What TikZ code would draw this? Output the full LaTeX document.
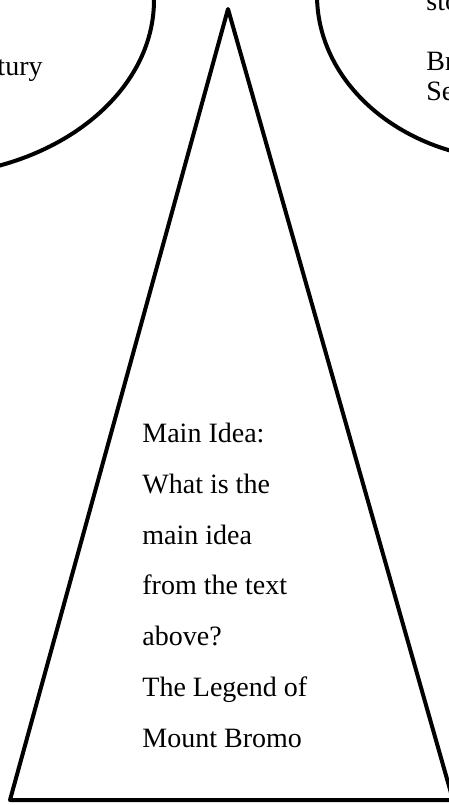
\documentclass[tikz,border=0pt]{standalone}
\usepackage{fontspec}
\setmainfont{Liberation Serif}
\usepackage{tikz}
\usetikzlibrary{positioning}

\begin{document}
\begin{tikzpicture}[
  x=0.5pt, y=-0.5pt,
  outline/.style={draw, line width=2pt, line join=round},
  txt/.style={inner sep=0pt, font=\fontsize{14}{15}\selectfont},
  idea/.style={txt, align=left, font=\fontsize{14}{25.35}\selectfont}
]
  \useasboundingbox (0,0) rectangle (449,805);
  \clip (0,0) rectangle (449,805);

  % Left bubble, cut by the page edge
  \draw[outline] (-80,0) ellipse [x radius=234, y radius=176];
  \node[txt, anchor=base east] (lefttail) at (43,75) {tury};

  % Right bubble, cut by the page edge
  \draw[outline] (517,-5) ellipse [x radius=200, y radius=165];
  \node[txt, anchor=base west] (rightsto) at (426,10) {sto};
  \node[txt, anchor=base west] (rightbr) at (426,70) {Br};
  \node[txt, anchor=base west] (rightse) at (426,100) {Se};

  % Main idea triangle
  \draw[outline] (228,9) -- (10,800) -- (453,800) -- cycle;

  \node[idea, anchor=base west] (mainidea) at (142,747) {Main Idea:\\What is the\\main idea\\from the text\\above?\\The Legend of\\Mount Bromo};

\end{tikzpicture}
\end{document}
